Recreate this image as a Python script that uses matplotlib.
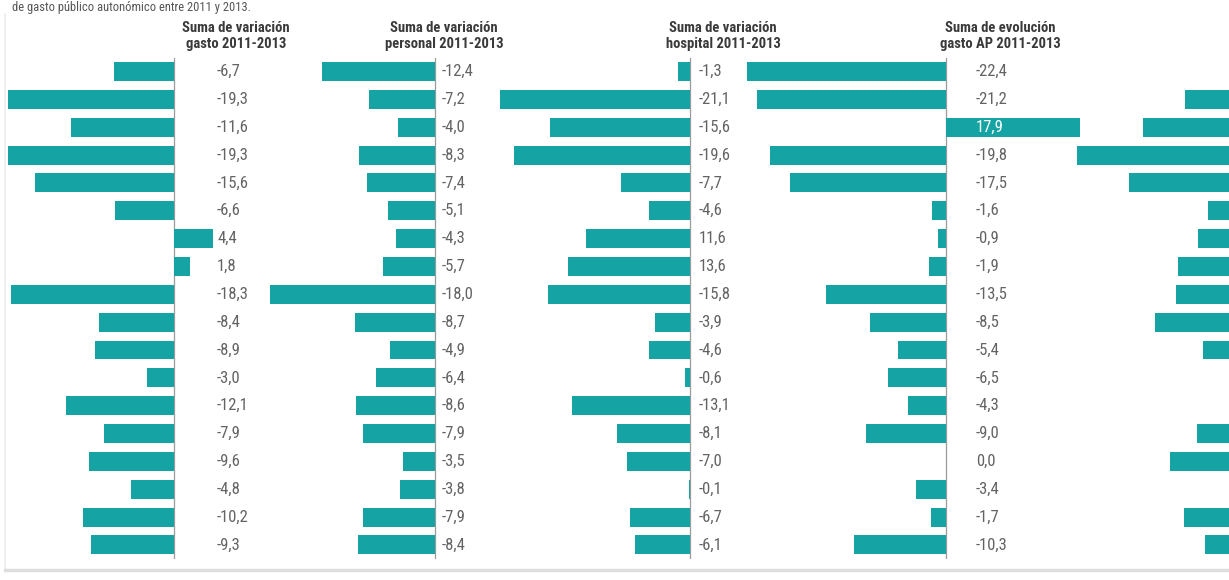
import numpy as np
import matplotlib
matplotlib.use("Agg")
import matplotlib.pyplot as plt
from matplotlib import font_manager
from matplotlib.lines import Line2D


# --- valores (18 filas, de arriba abajo) ---
gasto    = [-6.7, -19.3, -11.6, -19.3, -15.6, -6.6, 4.4, 1.8, -18.3,
            -8.4, -8.9, -3.0, -12.1, -7.9, -9.6, -4.8, -10.2, -9.3]
personal = [-12.4, -7.2, -4.0, -8.3, -7.4, -5.1, -4.3, -5.7, -18.0,
            -8.7, -4.9, -6.4, -8.6, -7.9, -3.5, -3.8, -7.9, -8.4]
hospital = [-1.3, -21.1, -15.6, -19.6, -7.7, -4.6, -11.6, -13.6, -15.8,
            -3.9, -4.6, -0.6, -13.1, -8.1, -7.0, -0.1, -6.7, -6.1]
gasto_ap = [-22.4, -21.2, 17.9, -19.8, -17.5, -1.6, -0.9, -1.9, -13.5,
            -8.5, -5.4, -6.5, -4.3, -9.0, 0.0, -3.4, -1.7, -10.3]
# quinta columna, cortada por el borde derecho (estimada, sin etiquetas)
quinta   = [-1.0, -6.1, -10.8, -18.1, -12.3, -3.6, -4.7, -6.9, -7.1,
            -9.4, -4.1, -1.0, -1.0, -4.8, -7.8, -1.0, -6.2, -3.9]

titulos = [
    "Suma de variación\ngasto 2011-2013",
    "Suma de variación\npersonal 2011-2013",
    "Suma de variación\nhospital 2011-2013",
    "Suma de evolución\ngasto AP 2011-2013",
    None,
]
subtitulo = "de gasto público autonómico entre 2011 y 2013."

# en el original dos etiquetas de hospital aparecen sin signo
etiquetas_sin_signo = {2: [6, 7]}

TEAL = "#16a3a3"
W, H = 1229, 580

# layout en pixeles: cero, px por unidad, borde izq, borde der, x etiqueta, centro titulo
PANELES = [
    dict(zero=174, esc=8.9,  izq=8,    der=240,  etq=217,  tit=236),
    dict(zero=435, esc=9.15, izq=200,  der=520,  etq=442,  tit=444),
    dict(zero=690, esc=9.0,  izq=450,  der=780,  etq=699,  tit=723),
    dict(zero=946, esc=8.9,  izq=700,  der=1080, etq=976,  tit=1000),
    dict(zero=1240, esc=9.0, izq=1000, der=1300, etq=1270, tit=1300),
]

ROW0, ROWSTEP, N = 71.5, 27.85, 18


def pick_font(cands):
    for f in cands:
        try:
            font_manager.findfont(font_manager.FontProperties(family=f),
                                  fallback_to_default=False)
            return f
        except ValueError:
            pass
    return "DejaVu Sans"


def fmt(v):
    return f"{v:.1f}".replace(".", ",")


def main():
    fam = pick_font(["Liberation Sans Narrow", "Roboto Condensed",
                     "Arial Narrow", "Liberation Sans"])
    plt.rcParams["font.family"] = [fam, "DejaVu Sans"]

    fig = plt.figure(figsize=(W / 100, H / 100), dpi=100)
    fig.patch.set_facecolor("white")

    top_px = ROW0 - ROWSTEP / 2
    bot_px = ROW0 + ROWSTEP * (N - 1) + ROWSTEP / 2
    y = np.arange(N)

    series = [gasto, personal, hospital, gasto_ap, quinta]
    for i, (vals, p) in enumerate(zip(series, PANELES)):
        ax = fig.add_axes([p["izq"] / W, 1 - bot_px / H,
                           (p["der"] - p["izq"]) / W, (bot_px - top_px) / H])
        ax.set_axis_off()
        ax.patch.set_alpha(0)
        ax.set_xlim((p["izq"] - p["zero"]) / p["esc"],
                    (p["der"] - p["zero"]) / p["esc"])
        ax.set_ylim(N - 0.5, -0.5)

        ax.barh(y, vals, height=0.68, color=TEAL, zorder=2)
        ax.axvline(0, color="#9a9a9a", lw=0.9, zorder=1)

        if titulos[i] is None:
            continue
        xl = (p["etq"] - p["zero"]) / p["esc"]
        for j, v in enumerate(vals):
            txt = fmt(v)
            if j in etiquetas_sin_signo.get(i, []):
                txt = txt.lstrip("-")
            color = "white" if v > 10 else "#636363"
            ax.text(xl, j, txt, ha="left", va="center", fontsize=12,
                    color=color, clip_on=False, zorder=3)

        fig.text(p["tit"] / W, 1 - 36 / H, titulos[i], ha="center",
                 va="center", fontsize=10.5, fontweight="bold",
                 color="#3a3a3a", linespacing=1.2)

    # subtitulo pegado al borde superior
    fig.text(12 / W, 1 - 1 / H, subtitulo, ha="left", va="top",
             fontsize=9, color="#555555")

    # marco claro a la izquierda y linea gris inferior
    fig.add_artist(Line2D([5 / W, 5 / W], [1 - 570 / H, 1 - 14 / H],
                          color="#ececec", lw=1.2))
    fig.add_artist(Line2D([5 / W, 1], [1 - 570 / H, 1 - 570 / H],
                          color="#dedede", lw=2.5))

    fig.savefig("out.png", dpi=100, facecolor="white")
    plt.close(fig)


if __name__ == "__main__":
    main()
